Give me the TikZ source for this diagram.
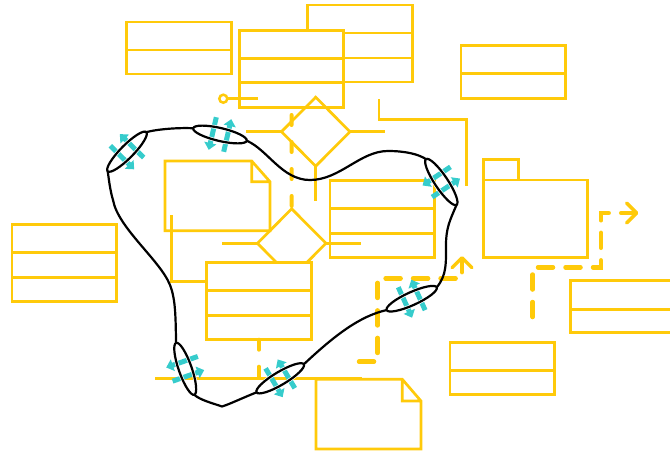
\documentclass[tikz,border=0pt]{standalone}
\usepackage{tikz}
\usetikzlibrary{arrows.meta,shapes.geometric}
\definecolor{ucy}{HTML}{FFCA0A}
\definecolor{ucc}{HTML}{36CCCC}
\tikzset{
  wire/.style={draw=ucy, line width=2.7pt},
  tbl/.style={draw=ucy, line width=2.7pt, fill=white, inner sep=0pt, outer sep=0pt, anchor=north west, minimum width=104.5pt},
  tbltwo/.style={tbl, minimum height=52pt},
  tblthree/.style={tbl, minimum height=77pt},
  gate/.style={diamond, draw=ucy, line width=2.7pt, inner sep=0pt, outer sep=0pt, minimum width=68.5pt, minimum height=69pt},
  notebox/.style={draw=ucy, line width=2.7pt},
  linkdash/.style={draw=ucy, line width=4pt, line cap=round, dash pattern=on 10pt off 17pt},
  flowdash/.style={draw=ucy, line width=4.5pt, line cap=round, dash pattern=on 15pt off 12.5pt, -{Straight Barb[length=10pt,width=20pt,line width=3.5pt,round]}},
  spin/.style={draw=ucc, line width=5pt, -{Triangle[length=7pt,width=12pt]}},
  halo/.style={draw=white, line width=3.6pt},
  blob/.style={draw=black, line width=2.2pt}
}
\newcommand{\splitrows}[2]{\foreach \dy in {#2}{\draw[wire] ([yshift=-\dy pt]#1.north west) -- ([yshift=-\dy pt]#1.north east);}}
\newcommand{\spinring}[3]{%
  \begin{scope}[shift={(#2)}, rotate=#3]
    \draw[spin] (-7.5,-16) -- (-7.5,17.5);
    \draw[spin] (7.5,16) -- (7.5,-17.5);
    \draw[halo] (0,0) ellipse (27.5 and 6.5);
    \draw[blob] (0,0) ellipse (27.5 and 6.5);
    \coordinate (#1-s) at (-27.5,0);
    \coordinate (#1-e) at (27.5,0);
  \end{scope}}
\begin{document}
\begin{tikzpicture}[x=1pt, y=-1pt]
\useasboundingbox (0,0) rectangle (670,453);
\clip (0,0) rectangle (670,453);
% ---- upper class boxes ----
\node[tbltwo] (tblA) at (126.8,22) {};
\splitrows{tblA}{28}
\node[tblthree] (tblB) at (307.7,5) {};
\splitrows{tblB}{28,53}
\node[tblthree] (tblC) at (239.3,30.7) {};
\splitrows{tblC}{28,52}
\node[circle, draw=ucy, line width=2.5pt, minimum size=8pt, inner sep=0pt, outer sep=0pt] (pin) at (223.3,98.7) {};
\draw[wire] (pin.east) -- ++(31,0);
% ---- first decision ----
\node[gate] (gate1) at (315.7,131.7) {};
\draw[wire] (gate1.west) -- ++(-35,0);
\draw[wire] (gate1.east) -- ++(35,0);
\draw[wire] (gate1.south) -- ++(0,35);
% ---- note and middle boxes ----
\draw[notebox] (165,161) -- (251.7,161) -- (270,181.7) -- (270,230.7) -- (165,230.7) -- cycle
  (251.7,161) -- (251.7,181.7) -- (270,181.7);
\node[tblthree] (tblD) at (330,180.7) {};
\splitrows{tblD}{28,53}
\node[gate] (gate2) at (291.7,243.3) {};
\draw[wire] (gate2.west) -- ++(-35,0);
\draw[wire] (gate2.east) -- ++(35,0);
\draw[linkdash, dash phase=19.7pt] (tblC.south) -- (gate2.north);
\coordinate (tap) at (171.7,215);
\node[tblthree] (tblE) at (206.7,262.7) {};
\splitrows{tblE}{28,53}
\draw[wire] (tap) |- ([yshift=-19pt]tblE.north west);
\draw[linkdash] (tblE.south) -- ++(0,39);
% ---- bottom rail and note ----
\coordinate (railL) at (155,378.3);
\coordinate (railR) at (362.3,378.3);
\draw[wire] (railL) -- (railR);
\draw[notebox] (316,379.3) -- (402.3,379.3) -- (421,401) -- (421,449) -- (316,449) -- cycle
  (402.3,379.3) -- (402.3,401) -- (421,401);
% ---- package and outer boxes ----
\node[tbl, minimum height=77.3pt] (pkg) at (483.3,180) {};
\draw[wire] (pkg.north west) -- ++(0,-20.7) -- ++(35,0) -- ++(0,20.7);
\node[tbltwo, minimum height=53pt] (tblI) at (461,45.7) {};
\splitrows{tblI}{28}
\node[tbltwo] (tblJ) at (450,342.3) {};
\splitrows{tblJ}{28}
\node[tbltwo] (tblG) at (570.7,280.7) {};
\splitrows{tblG}{28.5}
\node[tblthree] (tblH) at (12,224.3) {};
\splitrows{tblH}{28,53}
% ---- routed line ----
\coordinate (hook) at (379,99);
\coordinate (drop) at (466.7,185.7);
\draw[wire] (hook) -- ++(0,20.3) -| (drop);
% ---- dashed flows ----
\coordinate (flowA) at (359,361.7);
\draw[flowdash] (flowA) -- ++(18.7,0) -- ++(0,-83.4) -- ++(84.3,0) -- ++(0,-22.3);
\coordinate (flowB) at (532.7,317);
\draw[flowdash] (flowB) |- (601,267.3) |- (638.3,213);
% ---- rings on the loop ----
\spinring{r1}{127,151.7}{45.4}
\spinring{r2}{220,134.5}{-13.1}
\spinring{r3}{441.3,182}{-56.3}
\spinring{r4}{411.7,298.7}{-155.6}
\spinring{r5}{280.2,378.3}{-149.3}
\spinring{r6}{185.2,368.8}{109.3}
\draw[blob] (r1-e) .. controls (158,129) and (180,127.5) .. (r2-s)
  (r2-e) .. controls (268,150) and (282,180) .. (310,180) .. controls (340,180) and (360,151) .. (388,151) .. controls (405,151) and (418,154) .. (r3-s)
  (r3-e) .. controls (450,220) and (446,228) .. (446,245) .. controls (446,262) and (447,275) .. (r4-s)
  (r4-e) .. controls (360,316) and (335,335) .. (r5-s)
  (r5-e) .. controls (240,399) and (230,404) .. (222,406.5) .. controls (212,403) and (200,400) .. (r6-s)
  (r6-e) .. controls (175.5,320) and (176,300) .. (170,285) .. controls (160,260) and (118,228) .. (113,200) .. controls (110,190) and (109,180) .. (r1-s);
\end{tikzpicture}
\end{document}
